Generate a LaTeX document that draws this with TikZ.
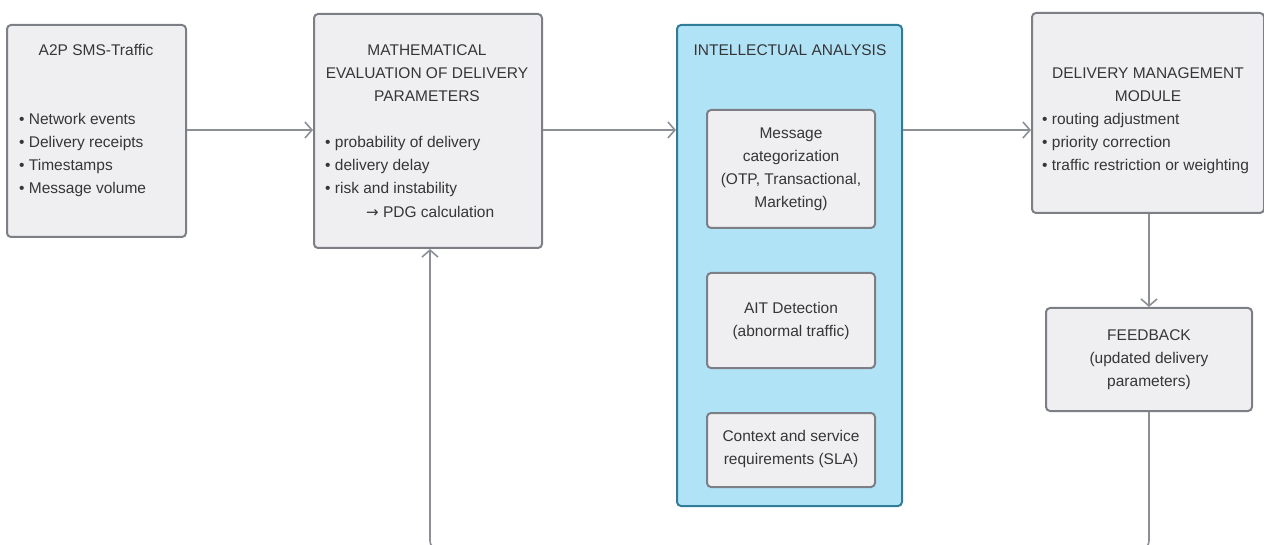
\documentclass[tikz,border=0pt]{standalone}
\usepackage{fontspec}
\setmainfont{Liberation Sans}
\newfontfamily\arrowfont{DejaVu Sans}
\usetikzlibrary{arrows.meta}
\definecolor{boxfill}{HTML}{EFEFF1}
\definecolor{boxline}{HTML}{7C7F85}
\definecolor{bluefill}{HTML}{B1E3F7}
\definecolor{blueline}{HTML}{2F7D98}
\definecolor{linkcol}{HTML}{8C9096}
\definecolor{txt}{HTML}{363638}
\tikzset{
  box/.style={draw=boxline, fill=boxfill, line width=2pt, rounded corners=4pt, inner sep=0pt},
  bluebox/.style={draw=blueline, fill=bluefill, line width=2pt, rounded corners=4pt, inner sep=0pt},
  lbl/.style={text=txt, font=\fontsize{15.5}{23}\selectfont, inner sep=0pt},
  link/.style={draw=linkcol, line width=1.6pt, -{Straight Barb[length=7pt,width=16pt,line width=1.6pt]}},
  plain/.style={draw=linkcol, line width=1.6pt, rounded corners=8pt}
}
\begin{document}
\begin{tikzpicture}[x=1pt,y=-1pt]
\useasboundingbox (0,0) rectangle (1264,545);
\clip (0,0) rectangle (1264,545);
% boxes
\node[box, minimum width=179pt, minimum height=212pt] (src) at (96.5,131) {};
\node[box, minimum width=228pt, minimum height=234pt] (math) at (428,131) {};
\node[bluebox, minimum width=225pt, minimum height=481pt] (ia) at (789.5,265.5) {};
\node[box, minimum width=168pt, minimum height=118pt] (cat) at (791,169) {};
\node[box, minimum width=168pt, minimum height=95pt] (ait) at (791,320.5) {};
\node[box, minimum width=168pt, minimum height=74pt] (sla) at (791,450) {};
\node[box, minimum width=232pt, minimum height=200pt] (dmm) at (1148,113) {};
\node[box, minimum width=206pt, minimum height=103pt] (fb) at (1149,359.5) {};
% texts
\node[lbl] (srcT) at (96,50) {A2P SMS-Traffic};
\node[lbl, align=left, anchor=west] (srcL) at (19,155) {• Network events\\• Delivery receipts\\• Timestamps\\• Message volume};
\node[lbl, align=center] (mathT) at (427,73) {MATHEMATICAL\\EVALUATION OF DELIVERY\\PARAMETERS};
\node[lbl, align=left, anchor=west] (mathL) at (325,166) {• probability of delivery\\• delivery delay\\• risk and instability};
\node[lbl, anchor=west] (pdg) at (366,212) {{\arrowfont\fontsize{15}{23}\selectfont →} PDG calculation};
\node[lbl] (iaT) at (790,50) {INTELLECTUAL ANALYSIS};
\node[lbl, align=center] (catT) at (791,169) {Message\\categorization\\(OTP, Transactional,\\Marketing)};
\node[lbl, align=center] (aitT) at (791,321) {AIT Detection\\(abnormal traffic)};
\node[lbl, align=center] (slaT) at (791,449) {Context and service\\requirements (SLA)};
\node[lbl, align=center] (dmmT) at (1148,85) {DELIVERY MANAGEMENT\\MODULE};
\node[lbl, align=left, anchor=west] (dmmL) at (1042,143) {• routing adjustment\\• priority correction\\• traffic restriction or weighting};
\node[lbl, align=center] (fbT) at (1149,360) {FEEDBACK\\(updated delivery\\parameters)};
% connectors
\draw[link] (src.east |- 0,130) -- (math.west |- 0,130);
\draw[link] (math.east |- 0,130) -- (ia.west |- 0,130);
\draw[link] (ia.east |- 0,130) -- (dmm.west |- 0,130);
\draw[link] (dmm.south -| fb.north) -- (fb.north);
\coordinate (loopR) at (1149,549);
\coordinate (loopL) at (430,549);
\draw[plain] (fb.south) -- (loopR) -- (loopL) -- (430,520);
\draw[link] (430,521) -- (math.south -| 430,0);
\end{tikzpicture}
\end{document}
